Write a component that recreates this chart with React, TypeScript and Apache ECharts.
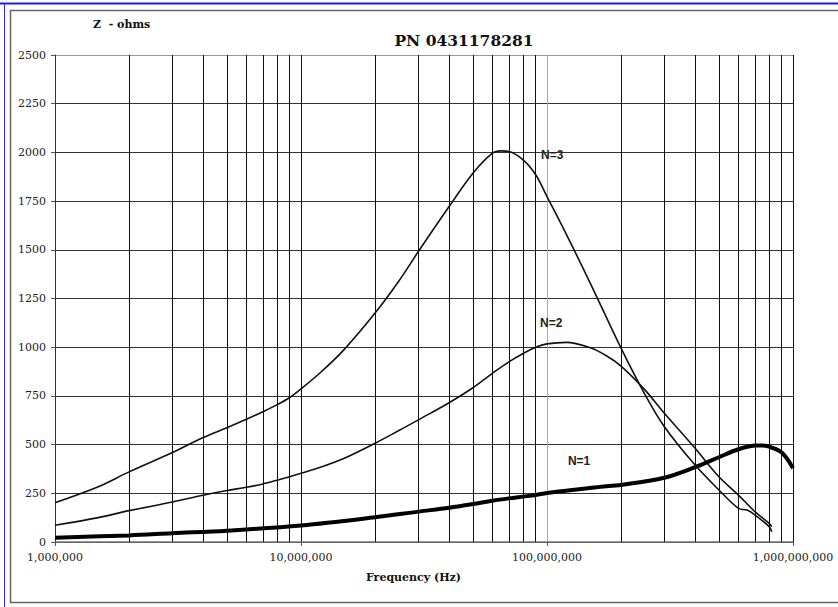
import React, { useEffect, useRef } from "react";
import * as echarts from "echarts";

const n3Freq = [1e6, 1.5e6, 2e6, 3e6, 4e6, 5e6, 6e6, 7e6, 8e6, 9e6, 1e7, 1.2e7, 1.5e7, 2e7, 2.5e7, 3e7, 4e7, 5e7, 6e7, 6.5e7, 7e7, 8e7, 9e7, 1e8, 1.2e8, 1.5e8, 2e8, 2.5e8, 3e8, 4e8, 5e8, 6e8, 6.5e8, 7e8, 8e8, 8.2e8];
const n3Z = [202, 284, 360, 459, 536, 587, 630, 669, 705, 742, 786, 870, 989, 1175, 1340, 1491, 1722, 1893, 1996, 2008, 2005, 1962, 1885, 1773, 1578, 1328, 995, 758, 592, 395, 267, 173, 164, 139, 79, 53];

const n2Freq = [1e6, 1.5e6, 2e6, 3e6, 4e6, 5e6, 6e6, 7e6, 8e6, 9e6, 1e7, 1.2e7, 1.5e7, 2e7, 2.5e7, 3e7, 4e7, 5e7, 6e7, 7e7, 8e7, 9e7, 1e8, 1.2e8, 1.5e8, 1.75e8, 2e8, 2.5e8, 3e8, 4e8, 5e8, 6e8, 7e8, 8e8, 8.2e8];
const n2Z = [86, 125, 161, 205, 240, 264, 281, 298, 317, 335, 353, 384, 430, 507, 572, 627, 715, 792, 866, 925, 968, 1000, 1017, 1025, 997, 955, 903, 781, 661, 481, 335, 241, 156, 96, 79];

const n1Freq = [1e6, 2e6, 3e6, 5e6, 1e7, 2e7, 3e7, 4e7, 5e7, 6e7, 7e7, 8e7, 9e7, 1e8, 1.64e8, 2e8, 3e8, 4e8, 5e8, 6e8, 7e8, 7.5e8, 8e8, 9e8, 1e9];
const n1Z = [22, 34, 45, 58, 85, 127, 156, 176, 195, 212, 224, 233, 241, 252, 283, 293, 330, 384, 435, 476, 495, 496, 489, 459, 379];

const minorGridFreqs = [
  2e6, 3e6, 4e6, 5e6, 6e6, 7e6, 8e6, 9e6,
  2e7, 3e7, 4e7, 5e7, 6e7, 7e7, 8e7, 9e7,
  2e8, 3e8, 4e8, 5e8, 6e8, 7e8, 8e8, 9e8,
];

const seriesLabels = [
  { name: "N=3", coord: [1.05e8, 1988] },
  { name: "N=2", coord: [1.04e8, 1125] },
  { name: "N=1", coord: [1.35e8, 416] },
];

const titleText = "PN 0431178281";
const yName = "Z  - ohms";
const xName = "Frequency (Hz)";

const zip = (xs: number[], ys: number[]) => xs.map((x, i) => [x, ys[i]]);

export default function App() {
  const ref = useRef<HTMLDivElement>(null);
  useEffect(() => {
    if (!ref.current) return;
    const chart = echarts.init(ref.current, null, { renderer: "svg" });
    const serif = "DejaVu Serif";
    chart.setOption({
      animation: false,
      backgroundColor: "#fff",
      title: {
        text: titleText,
        left: 459,
        top: 27,
        textAlign: "center",
        textStyle: { fontFamily: serif, fontWeight: "bold", fontSize: 15.5, color: "#111" },
      },
      graphic: [
        { type: "line", shape: { x1: 0, y1: 3.5, x2: 838, y2: 3.5 }, style: { stroke: "#1c1cf0", lineWidth: 2 } },
        { type: "line", shape: { x1: 4.5, y1: 3, x2: 4.5, y2: 607 }, style: { stroke: "#2a2af5", lineWidth: 1 } },
        { type: "rect", shape: { x: 10.5, y: 10.5, width: 840, height: 592 }, style: { fill: "none", stroke: "#666", lineWidth: 1.5 } },
        { type: "text", left: 93, top: 19, style: { text: yName, font: `bold 11px "${serif}"`, fill: "#111" } },
        { type: "text", left: 366, top: 572, style: { text: xName, font: `bold 11px "${serif}"`, fill: "#111" } },
      ],
      grid: { left: 55, right: 45, top: 55, bottom: 65, containLabel: false },
      xAxis: {
        type: "log",
        logBase: 10,
        min: 1e6,
        max: 1e9,
        axisLine: { show: true, lineStyle: { color: "#777", width: 1.5 } },
        axisTick: { show: true, length: 4, lineStyle: { color: "#555" } },
        axisLabel: {
          margin: 10,
          fontFamily: serif,
          fontSize: 11,
          color: "#222",
          formatter: (v: number) => Math.round(v).toLocaleString("en-US"),
        },
        splitLine: { show: true, lineStyle: { color: ["#111", "#111", "#111", "#aaa"], width: 1 } },
      },
      yAxis: {
        type: "value",
        min: 0,
        max: 2500,
        interval: 250,
        axisLine: { show: true, lineStyle: { color: "#333", width: 1 } },
        axisTick: { show: true, length: 4, lineStyle: { color: "#555" } },
        axisLabel: {
          margin: 9,
          fontFamily: serif,
          fontSize: 11,
          color: "#222",
          formatter: (v: number) => String(v),
        },
        splitLine: {
          show: true,
          lineStyle: {
            color: ["#333", "#333", "#333", "#333", "#333", "#333", "#333", "#333", "#333", "#333", "#999"],
            width: 1,
          },
        },
      },
      series: [
        {
          type: "line",
          data: [],
          silent: true,
          markLine: {
            silent: true,
            symbol: "none",
            label: { show: false },
            lineStyle: { color: "#111", width: 1, type: "solid" },
            data: minorGridFreqs.map((f) => ({ xAxis: f })),
          },
        },
        {
          name: "N=3",
          type: "line",
          data: zip(n3Freq, n3Z),
          showSymbol: false,
          smooth: 0.35,
          lineStyle: { color: "#111", width: 1.6 },
          z: 3,
        },
        {
          name: "N=2",
          type: "line",
          data: zip(n2Freq, n2Z),
          showSymbol: false,
          smooth: 0.35,
          lineStyle: { color: "#111", width: 1.6 },
          z: 3,
        },
        {
          name: "N=1",
          type: "line",
          data: zip(n1Freq, n1Z),
          showSymbol: false,
          smooth: 0.35,
          lineStyle: { color: "#000", width: 4 },
          z: 3,
          markPoint: {
            symbol: "circle",
            symbolSize: 0,
            label: {
              show: true,
              formatter: (p: any) => p.name,
              fontFamily: "Liberation Sans",
              fontWeight: "bold",
              fontSize: 12,
              color: "#222",
            },
            data: seriesLabels.map((l) => ({ name: l.name, coord: l.coord })),
          },
        },
      ],
    });
    return () => chart.dispose();
  }, []);
  return <div ref={ref} style={{ position: "fixed", left: 0, top: 0, width: 838, height: 607 }} />;
}
